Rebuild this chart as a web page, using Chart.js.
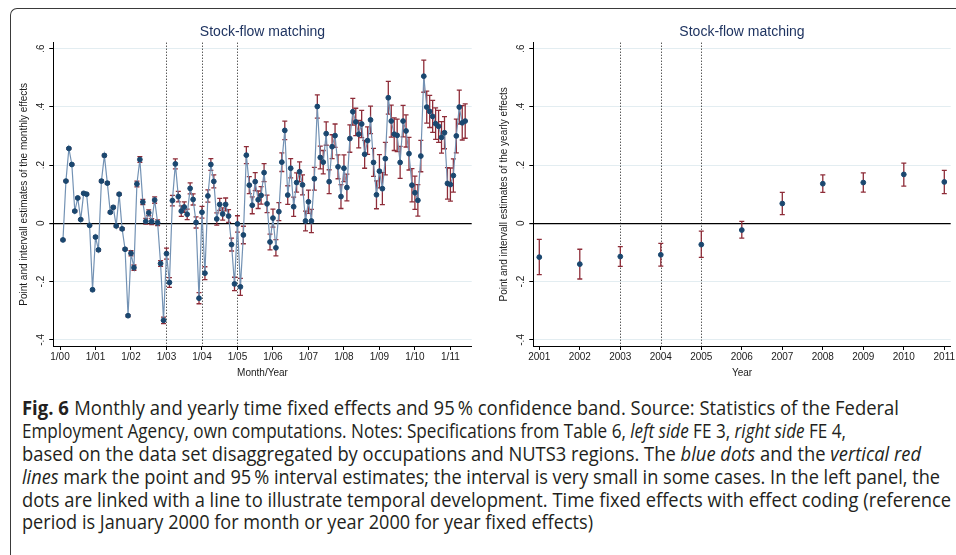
<!DOCTYPE html>
<html>
<head>
<meta charset="utf-8">
<script src="https://cdn.jsdelivr.net/npm/chart.js@4.4.0/dist/chart.umd.min.js"></script>
<style>
  html, body { margin:0; padding:0; background:#fff; width:956px; height:555px; overflow:hidden; position:relative; }
  #frame { position:absolute; left:10px; top:8px; width:990px; height:600px; border-top:1.3px solid #3a3a3a; border-left:1.3px solid #3a3a3a; border-top-left-radius:7px; pointer-events:none; z-index:5; }
  canvas { position:absolute; top:0; }
  #cL { left:0; }
  #cR { left:480px; }
  .cap { position:absolute; left:22px; white-space:nowrap; font-family:"Open Sans", "Noto Sans", sans-serif; font-size:20px; line-height:22px; color:#231f20; transform-origin:0 50%; }
  .cap b { font-weight:700; margin-right:6px; }
</style>
</head>
<body>
<div id="frame"></div>
<canvas id="cL" width="480" height="385" style="width:480px;height:385px"></canvas>
<canvas id="cR" width="480" height="385" style="width:480px;height:385px"></canvas>

<div class="cap" id="l1"><b>Fig. 6</b>Monthly and yearly time fixed effects and 95&#8201;% confidence band. Source: Statistics of the Federal</div>
<div class="cap" id="l2">Employment Agency, own computations. Notes: Specifications from Table 6, <i>left side</i> FE 3, <i>right side</i> FE 4,</div>
<div class="cap" id="l3">based on the data set disaggregated by occupations and NUTS3 regions. The <i>blue dots</i> and the <i>vertical red</i></div>
<div class="cap" id="l4"><i>lines</i> mark the point and 95&#8201;% interval estimates; the interval is very small in some cases. In the left panel, the</div>
<div class="cap" id="l5">dots are linked with a line to illustrate temporal development. Time fixed effects with effect coding (reference</div>
<div class="cap" id="l6">period is January 2000 for month or year 2000 for year fixed effects)</div>

<script>
// ---------------- DATA ----------------
// Monthly effects, Feb 2000 (month 1) .. Jun 2011 (month 137); month 0 = Jan 2000
const monthlyValues = [
  -0.057, 0.145, 0.257, 0.202, 0.042, 0.087, 0.013, 0.103, 0.100, -0.007, -0.228,
  -0.047, -0.091, 0.145, 0.233, 0.138, 0.038, 0.055, -0.009, 0.100, -0.019, -0.089, -0.317,
  -0.103, -0.152, 0.135, 0.219, 0.073, 0.007, 0.036, 0.006, 0.080, 0.002, -0.138, -0.333,
  -0.104, -0.203, 0.078, 0.204, 0.092, 0.042, 0.056, 0.031, 0.120, 0.082, 0.003, -0.257,
  0.038, -0.171, 0.094, 0.202, 0.144, 0.015, 0.065, 0.032, 0.065, 0.025, -0.073, -0.208,
  -0.002, -0.218, -0.040, 0.234, 0.131, 0.062, 0.143, 0.081, 0.096, 0.174, 0.067, -0.064,
  0.018, -0.084, 0.040, 0.210, 0.319, 0.097, 0.189, 0.057, 0.140, 0.177, 0.132, 0.008,
  0.074, 0.008, 0.153, 0.401, 0.226, 0.210, 0.308, 0.143, 0.263, 0.301, 0.194, 0.092,
  0.189, 0.123, 0.291, 0.383, 0.348, 0.306, 0.341, 0.237, 0.284, 0.355, 0.209, 0.098,
  0.179, 0.119, 0.222, 0.431, 0.351, 0.306, 0.302, 0.209, 0.351, 0.317, 0.239, 0.131,
  0.105, 0.079, 0.231, 0.505, 0.399, 0.384, 0.367, 0.342, 0.333, 0.295, 0.311, 0.137,
  0.133, 0.164, 0.300, 0.399, 0.345, 0.351
];
// Half-width of the 95% interval for each month (read from the caps)
const monthlyHalfWidth = [
  0.003,0.003,0.003,0.003,0.003,0.003,0.003,0.003,0.003,0.003,0.003,
  0.004,0.004,0.004,0.004,0.004,0.004,0.004,0.004,0.004,0.004,0.004,0.004,
  0.009,0.009,0.010,0.010,0.009,0.010,0.010,0.010,0.011,0.010,0.010,0.011,
  0.019,0.017,0.018,0.017,0.018,0.018,0.018,0.018,0.019,0.019,0.019,0.019,
  0.020,0.022,0.021,0.020,0.022,0.021,0.021,0.021,0.022,0.022,0.022,0.023,
  0.028,0.029,0.030,0.029,0.029,0.029,0.031,0.030,0.030,0.031,0.030,0.027,
  0.031,0.028,0.031,0.032,0.032,0.032,0.033,0.033,0.033,0.034,0.034,0.034,
  0.040,0.040,0.039,0.040,0.039,0.040,0.040,0.041,0.041,0.040,0.041,0.041,
  0.046,0.046,0.047,0.046,0.047,0.047,0.047,0.048,0.047,0.047,0.048,0.048,
  0.057,0.055,0.056,0.056,0.055,0.056,0.056,0.055,0.054,0.055,0.056,0.057,
  0.057,0.054,0.054,0.055,0.055,0.055,0.055,0.054,0.055,0.054,0.055,0.054,
  0.057,0.057,0.058,0.058,0.059,0.059
];
const monthTickValues = [0, 12, 24, 36, 48, 60, 72, 84, 96, 108, 120, 132];
const monthTickLabels = ['1/00','1/01','1/02','1/03','1/04','1/05','1/06','1/07','1/08','1/09','1/10','1/11'];
const monthRefLines = [36, 48, 60];

// Yearly effects
const years = [2001, 2002, 2003, 2004, 2005, 2006, 2007, 2008, 2009, 2010, 2011];
const yearlyValues = [-0.116, -0.140, -0.114, -0.108, -0.073, -0.023, 0.068, 0.136, 0.140, 0.168, 0.142];
const yearlyLower  = [-0.176, -0.191, -0.148, -0.147, -0.117, -0.051, 0.030, 0.106, 0.107, 0.128, 0.102];
const yearlyUpper  = [-0.055, -0.089, -0.080, -0.069, -0.027, 0.007, 0.106, 0.166, 0.173, 0.207, 0.182];
const yearTickLabels = ['2001','2002','2003','2004','2005','2006','2007','2008','2009','2010','2011'];
const yearRefLines = [2003, 2004, 2005];

const yTickValues = [-0.4, -0.2, 0, 0.2, 0.4, 0.6];
const yTickLabels = ['-.4', '-.2', '0', '.2', '.4', '.6'];

// ---------------- STYLE ----------------
const FONT = '"Liberation Sans", Arial, sans-serif';
Chart.defaults.font.family = FONT;
Chart.defaults.font.size = 10;
Chart.defaults.color = '#1a1a1a';

const NAVY = '#1a476f';
const LINE = '#7392b4';
const RED = '#8e2c38';
const GRID = '#e3edf1';

const errorBarPlugin = {
  id: 'errorBars',
  beforeDatasetsDraw(chart, args, opts) {
    const { ctx, chartArea } = chart;
    const xs = chart.scales.x, ys = chart.scales.y;
    ctx.save();
    ctx.beginPath();
    ctx.rect(chartArea.left, chartArea.top - 1, chartArea.right - chartArea.left, chartArea.bottom - chartArea.top + 1);
    ctx.clip();
    ctx.strokeStyle = '#111';
    ctx.lineWidth = 1;
    ctx.setLineDash([1, 2]);
    (opts.refLines || []).forEach(v => {
      const px = Math.round(xs.getPixelForValue(v)) + 0.5;
      ctx.beginPath();
      ctx.moveTo(px, chartArea.top);
      ctx.lineTo(px, chartArea.bottom);
      ctx.stroke();
    });
    ctx.setLineDash([]);
    chart.data.datasets.forEach(ds => {
      if (!ds.errLow) return;
      ctx.strokeStyle = opts.color;
      ctx.lineWidth = opts.width;
      ds.data.forEach((pt, i) => {
        const px = xs.getPixelForValue(pt.x);
        const pl = ys.getPixelForValue(ds.errLow[i]);
        const ph = ys.getPixelForValue(ds.errHigh[i]);
        ctx.beginPath();
        ctx.moveTo(px, pl); ctx.lineTo(px, ph);
        ctx.moveTo(px - opts.cap, pl); ctx.lineTo(px + opts.cap, pl);
        ctx.moveTo(px - opts.cap, ph); ctx.lineTo(px + opts.cap, ph);
        ctx.stroke();
      });
    });
    ctx.restore();
  }
};

function buildOptions(cfg) {
  return {
    responsive: false,
    animation: false,
    devicePixelRatio: 1,
    layout: { padding: { left: 0, right: cfg.padRight, top: 13.3, bottom: 0 } },
    plugins: {
      legend: { display: false },
      tooltip: { enabled: false },
      title: {
        display: true,
        text: 'Stock-flow matching',
        fullSize: false,
        color: '#1f3461',
        font: { family: FONT, size: 14, weight: 'normal' },
        padding: { top: 10, bottom: 2.6 }
      },
      errorBars: { refLines: cfg.refLines, color: RED, width: 1.3, cap: 2.5 }
    },
    scales: {
      x: {
        type: 'linear',
        min: cfg.xMin,
        max: cfg.xMax,
        afterBuildTicks: s => { s.ticks = cfg.xTicks.map(v => ({ value: v })); },
        afterFit: s => { s.height = 39; },
        ticks: {
          autoSkip: false, maxRotation: 0, minRotation: 0, padding: 1,
          color: '#1a1a1a', font: { size: 10 },
          callback: v => cfg.xTickLabels[cfg.xTicks.indexOf(v)]
        },
        grid: { drawOnChartArea: false, drawTicks: true, tickLength: 4, tickColor: '#000', tickWidth: 1 },
        border: { display: true, color: '#000', width: 1 },
        title: { display: true, text: cfg.xTitle, color: '#1a1a1a', font: { size: 10 }, padding: { top: 0, bottom: 6 } }
      },
      y: {
        type: 'linear',
        min: -0.421,
        max: 0.62,
        afterBuildTicks: s => { s.ticks = yTickValues.map(v => ({ value: v })); },
        afterFit: s => { s.width = 53.3; },
        ticks: {
          autoSkip: false, minRotation: 90, maxRotation: 90, crossAlign: 'center', padding: 2,
          color: '#1a1a1a', font: { size: 10 },
          callback: v => yTickLabels[yTickValues.indexOf(v)]
        },
        grid: {
          drawTicks: true, tickLength: 4, tickColor: '#000',
          color: c => (c.tick && c.tick.value === 0) ? '#000' : GRID,
          lineWidth: c => (c.tick && c.tick.value === 0) ? 1.2 : 1
        },
        border: { display: true, color: '#000', width: 1 },
        title: { display: true, text: cfg.yTitle, color: '#1a1a1a', font: { size: 10 }, padding: { top: 18, bottom: 0 } }
      }
    }
  };
}

const monthIndex = monthlyValues.map((_, i) => i + 1);

new Chart(document.getElementById('cL'), {
  type: 'line',
  data: {
    datasets: [{
      data: monthIndex.map((m, i) => ({ x: m, y: monthlyValues[i] })),
      errLow: monthlyValues.map((v, i) => v - monthlyHalfWidth[i]),
      errHigh: monthlyValues.map((v, i) => v + monthlyHalfWidth[i]),
      borderColor: LINE,
      borderWidth: 1.2,
      tension: 0,
      pointRadius: 2.4,
      pointBorderWidth: 1,
      pointBackgroundColor: NAVY,
      pointBorderColor: NAVY
    }]
  },
  options: buildOptions({
    padRight: 8.3, xMin: -2.27, xMax: 139.2,
    xTicks: monthTickValues, xTickLabels: monthTickLabels,
    xTitle: 'Month/Year',
    yTitle: 'Point and intervall estimates of the monthly effects',
    refLines: monthRefLines
  }),
  plugins: [errorBarPlugin]
});

new Chart(document.getElementById('cR'), {
  type: 'scatter',
  data: {
    datasets: [{
      data: years.map((y, i) => ({ x: y, y: yearlyValues[i] })),
      errLow: yearlyLower,
      errHigh: yearlyUpper,
      showLine: false,
      pointRadius: 2.4,
      pointBorderWidth: 1,
      pointBackgroundColor: NAVY,
      pointBorderColor: NAVY
    }]
  },
  options: buildOptions({
    padRight: 9.3, xMin: 2000.852, xMax: 2011.158,
    xTicks: years, xTickLabels: yearTickLabels,
    xTitle: 'Year',
    yTitle: 'Point and intervall estimates of the yearly effects',
    refLines: yearRefLines
  }),
  plugins: [errorBarPlugin]
});

// ---------------- CAPTION LAYOUT ----------------
const captionCenters = [408, 431, 454, 477, 500, 522];
const captionEnds = [899, 846, 921, 940, 951, 593];
function layoutCaption() {
  for (let i = 0; i < 6; i++) {
    const el = document.getElementById('l' + (i + 1));
    el.style.transform = 'none';
    el.style.top = (captionCenters[i] - 11) + 'px';
    const w = el.getBoundingClientRect().width;
    const s = (captionEnds[i] - 22) / w;
    el.style.transform = 'scaleX(' + s + ')';
  }
}
layoutCaption();
if (document.fonts && document.fonts.ready) document.fonts.ready.then(layoutCaption);
</script>
</body>
</html>
